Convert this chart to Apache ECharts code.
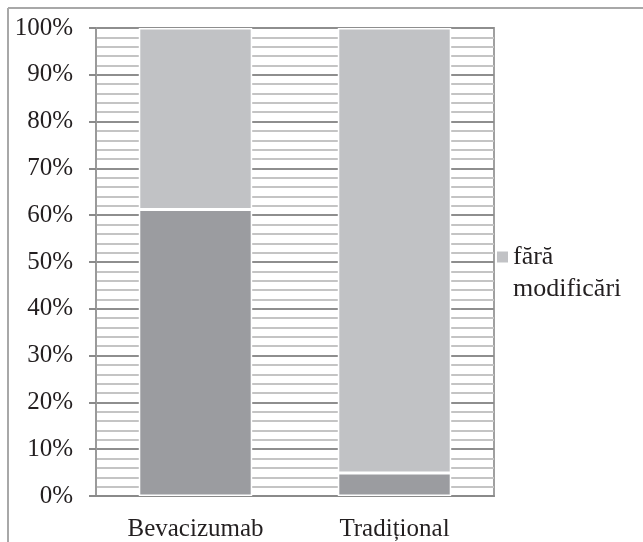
<!DOCTYPE html>
<html>
<head>
<meta charset="utf-8">
<script src="https://cdn.jsdelivr.net/npm/echarts@6/dist/echarts.min.js"></script>
<style>
  html, body { margin: 0; padding: 0; background: #fff; }
  #chart { width: 643px; height: 542px; }
</style>
</head>
<body>
<div id="chart"></div>
<script>
// Share of patients per treatment group (100% stacked columns)
const categories = ['Bevacizumab', 'Tradițional'];
const withChanges = [61.2, 4.9];
const noChanges = [38.8, 95.1];
const seriesNames = ['cu modificări', 'fără modificări'];

const serif = '"Liberation Serif", "DejaVu Serif", serif';
const textColor = '#231f20';

const chart = echarts.init(document.getElementById('chart'));
chart.setOption({
  animation: false,
  backgroundColor: '#ffffff',
  grid: {
    left: 96, right: 149, top: 28, bottom: 45,
    show: true, borderColor: '#a0a0a0', borderWidth: 2
  },
  legend: {
    data: [seriesNames[1]],
    orient: 'vertical',
    left: 497, top: 242,
    padding: 0,
    itemWidth: 11, itemHeight: 11, itemGap: 0, itemStyle: { borderWidth: 0 },
    icon: 'rect',
    textStyle: { fontFamily: serif, fontSize: 26, color: textColor, lineHeight: 30 },
    // the legend entry wraps: first word beside the swatch, second word below
    formatter: n => n.split(' ')[0]
  },
  xAxis: {
    type: 'category',
    data: categories,
    axisLine: { lineStyle: { color: '#8a8a8a', width: 2 } },
    axisTick: { show: false },
    axisLabel: { fontFamily: serif, fontSize: 25, color: textColor, margin: 21 }
  },
  yAxis: {
    type: 'value',
    min: 0, max: 100, interval: 10,
    axisLine: { show: true, lineStyle: { color: '#9a9a9a', width: 2 } },
    axisTick: { show: true, length: 7, lineStyle: { color: '#8a8a8a', width: 2 } },
    axisLabel: { formatter: '{value}%', fontFamily: serif, fontSize: 25, color: textColor, margin: 23 },
    splitLine: { lineStyle: { color: '#8e8e8e', width: 2 } },
    minorTick: { show: false, splitNumber: 5 },
    minorSplitLine: { show: true, lineStyle: { color: '#c4c4c4', width: 2 } }
  },
  series: [
    {
      name: seriesNames[0], type: 'bar', stack: 'total', data: withChanges,
      barWidth: '57%',
      itemStyle: { color: '#9b9ca0', borderColor: '#ffffff', borderWidth: 1.5 }
    },
    {
      name: seriesNames[1], type: 'bar', stack: 'total', data: noChanges,
      barWidth: '57%',
      itemStyle: { color: '#c1c2c5', borderColor: '#ffffff', borderWidth: 1.5 }
    }
  ],
  graphic: [
    { type: 'line', shape: { x1: 8, y1: 8, x2: 643, y2: 8 }, style: { stroke: '#a8a8a8', lineWidth: 2 } },
    { type: 'line', shape: { x1: 8, y1: 8, x2: 8, y2: 542 }, style: { stroke: '#a8a8a8', lineWidth: 2 } },
    {
      type: 'text', left: 513, top: 276,
      style: { text: seriesNames[1].split(' ')[1], font: '26px ' + serif, fill: textColor }
    }
  ]
});
</script>
</body>
</html>
